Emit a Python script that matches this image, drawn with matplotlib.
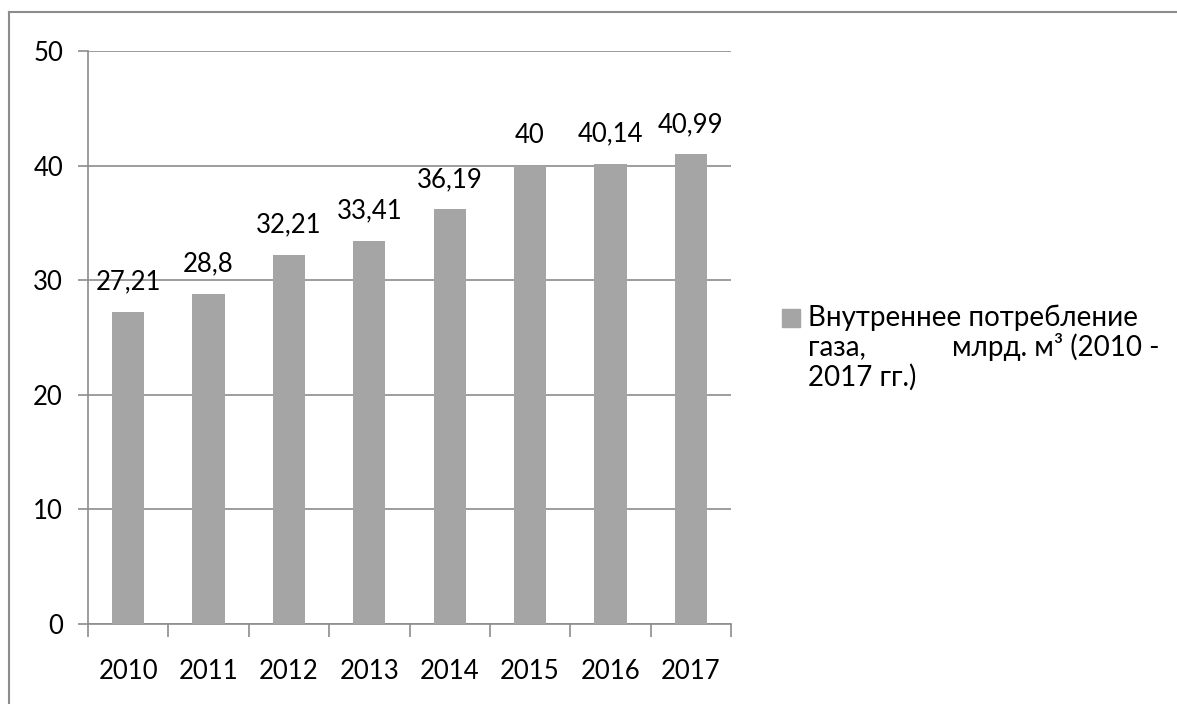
import matplotlib
matplotlib.use("Agg")
import matplotlib.pyplot as plt
from matplotlib.lines import Line2D
from matplotlib.patches import Rectangle
import numpy as np

years = ["2010", "2011", "2012", "2013", "2014", "2015", "2016", "2017"]
values = [27.21, 28.8, 32.21, 33.41, 36.19, 40, 40.14, 40.99]
value_labels = ["27,21", "28,8", "32,21", "33,41", "36,19", "40", "40,14", "40,99"]
yticks = [0, 10, 20, 30, 40, 50]
legend_line1 = "Внутреннее потребление"
legend_line2a = "газа,"
legend_line2b = "млрд. м³ (2010 -"
legend_line3 = "2017 гг.)"

plt.rcParams['font.family'] = ['Lato', 'DejaVu Sans']
FS = 18.5
FS_LEG = 20

W, H = 1177, 704
fig = plt.figure(figsize=(W / 100, H / 100), dpi=100)
fig.patch.set_facecolor("white")

ax = fig.add_axes([88 / W, 1 - 624 / H, (731 - 88) / W, (624 - 51) / H])

grid_c = "#8c8c8c"
bar_c = "#a5a5a5"
x = np.arange(len(years))
ax.bar(x, values, width=0.4, color=bar_c, zorder=3)
ax.set_xlim(-0.5, len(years) - 0.5)
ax.set_ylim(0, 50)
ax.set_yticks(yticks)
ax.set_yticklabels([str(t) for t in yticks])
ax.yaxis.grid(True, color=grid_c, lw=1.2, zorder=0)
ax.set_axisbelow(True)

for s in ["top", "right"]:
    ax.spines[s].set_visible(False)
for s in ["left", "bottom"]:
    ax.spines[s].set_color(grid_c)
    ax.spines[s].set_linewidth(1.2)

ax.set_xticks(x)
ax.set_xticklabels(years)
ax.set_xticks(np.arange(-0.5, len(years)), minor=True)
ax.tick_params(axis="x", which="major", length=0, pad=25, labelsize=FS, colors="black")
ax.tick_params(axis="x", which="minor", length=9.5, width=1.2, color=grid_c, direction="out")
ax.tick_params(axis="y", length=7, width=1.2, color=grid_c, pad=11, labelsize=FS)

for xi, v, lab in zip(x, values, value_labels):
    ax.annotate(lab, (xi, v), xytext=(0, 12.5), textcoords="offset points",
                ha="center", va="bottom", fontsize=FS, color="black")

# legend drawn manually (justified text like the original)
fig.add_artist(Rectangle((782 / W, 1 - 327 / H), 18 / W, 18 / H, color=bar_c,
                         transform=fig.transFigure))
fig.text(808 / W, 1 - 318 / H, legend_line1, fontsize=FS_LEG, va="center", ha="left")
fig.text(808 / W, 1 - 347 / H, legend_line2a, fontsize=FS_LEG, va="center", ha="left")
fig.text(1160 / W, 1 - 347 / H, legend_line2b, fontsize=FS_LEG, va="center", ha="right")
fig.text(808 / W, 1 - 377 / H, legend_line3, fontsize=FS_LEG, va="center", ha="left")

# outer frame (top and left visible)
fig.add_artist(Line2D([9 / W, 1], [1 - 12 / H, 1 - 12 / H], color="#8c8c8c", lw=1.5,
                      transform=fig.transFigure))
fig.add_artist(Line2D([9 / W, 9 / W], [0, 1 - 12 / H], color="#8c8c8c", lw=1.5,
                      transform=fig.transFigure))

fig.savefig("out.png", dpi=100)
